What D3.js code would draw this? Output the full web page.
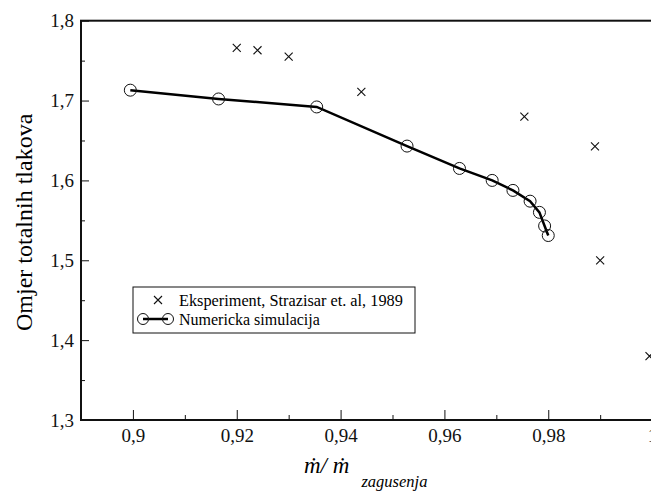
<!DOCTYPE html>
<html>
<head>
<meta charset="utf-8">
<script src="https://cdn.jsdelivr.net/npm/d3@7"></script>
<style>
  body { margin: 0; background: #fff; }
  svg { display: block; font-family: "Liberation Serif", "Times New Roman", serif; }
</style>
</head>
<body>
<div id="chart"></div>
<script>
// eksperiment (x oznake)
const expX = [0.920, 0.924, 0.930, 0.944, 0.9754, 0.989, 0.990, 0.9995];
const expY = [1.766, 1.763, 1.755, 1.711, 1.680, 1.6425, 1.500, 1.380];

// numericka simulacija (krugovi + linija)
const simX = [0.8995, 0.9165, 0.9354, 0.9528, 0.9629, 0.9692, 0.9732, 0.9765, 0.9783, 0.9793, 0.9800];
const simY = [1.713, 1.702, 1.692, 1.643, 1.615, 1.600, 1.5875, 1.574, 1.560, 1.543, 1.531];

const xTicks = [0.9, 0.92, 0.94, 0.96, 0.98, 1.0];
const xMinor = [0.91, 0.93, 0.95, 0.97, 0.99];
const yTicks = [1.3, 1.4, 1.5, 1.6, 1.7, 1.8];
const yMinor = [1.35, 1.45, 1.55, 1.65, 1.75];

const W = 651, H = 492;
const margin = { top: 20.7, left: 81, bottom: 72, right: -53 };
const width = W - margin.left - margin.right,
      height = H - margin.top - margin.bottom;

const loc = d3.formatLocale({ decimal: ",", thousands: ".", grouping: [3], currency: ["", ""] });
const fmt = loc.format("~g");

const svg = d3.select("#chart").append("svg")
  .attr("width", W).attr("height", H);

const g = svg.append("g")
  .attr("transform", `translate(${margin.left},${margin.top})`);

const x = d3.scaleLinear().domain([0.89, 1.01]).range([0, width]);
const y = d3.scaleLinear().domain([1.3, 1.8]).range([height, 0]);

// okvir
g.append("rect")
  .attr("width", width).attr("height", height)
  .attr("fill", "none").attr("stroke", "#111").attr("stroke-width", 2);

// osi - crtice prema unutra
g.append("g")
  .attr("transform", `translate(0,${height})`)
  .call(d3.axisBottom(x).tickValues(xTicks).tickSize(-10).tickPadding(9).tickFormat(fmt));
g.append("g")
  .attr("transform", `translate(0,${height})`)
  .call(d3.axisBottom(x).tickValues(xMinor).tickSize(-5).tickFormat(""));

g.append("g")
  .call(d3.axisLeft(y).tickValues(yTicks).tickSize(-8).tickPadding(7).tickFormat(fmt));
g.append("g")
  .call(d3.axisLeft(y).tickValues(yMinor).tickSize(-4).tickFormat(""));

g.selectAll(".domain").remove();
g.selectAll(".tick line").attr("stroke", "#111").attr("stroke-width", 1);
g.selectAll(".tick text")
  .attr("font-family", "'Liberation Serif', serif")
  .style("font-size", "19px")
  .attr("fill", "#111");

// linija simulacije
const sim = simX.map((v, i) => [v, simY[i]]);
g.append("path")
  .datum(sim)
  .attr("fill", "none")
  .attr("stroke", "#000")
  .attr("stroke-width", 2.5)
  .attr("d", d3.line().x(d => x(d[0])).y(d => y(d[1])));

g.selectAll("circle.sim")
  .data(sim)
  .enter().append("circle")
  .attr("class", "sim")
  .attr("cx", d => x(d[0]))
  .attr("cy", d => y(d[1]))
  .attr("r", 6)
  .attr("fill", "none")
  .attr("stroke", "#111")
  .attr("stroke-width", 1);

// eksperiment - krizici
const exp = expX.map((v, i) => [v, expY[i]]);
const cs = 4;
g.selectAll("path.exp")
  .data(exp)
  .enter().append("path")
  .attr("class", "exp")
  .attr("transform", d => `translate(${x(d[0])},${y(d[1])})`)
  .attr("d", `M${-cs},${-cs}L${cs},${cs}M${-cs},${cs}L${cs},${-cs}`)
  .attr("stroke", "#111")
  .attr("stroke-width", 1.1);

// legenda
const leg = g.append("g").attr("transform", `translate(${133 - margin.left},${287 - margin.top})`);
leg.append("rect")
  .attr("width", 282).attr("height", 46)
  .attr("fill", "#fff").attr("stroke", "#111").attr("stroke-width", 1);
leg.append("path")
  .attr("transform", "translate(25,13)")
  .attr("d", `M${-cs},${-cs}L${cs},${cs}M${-cs},${cs}L${cs},${-cs}`)
  .attr("stroke", "#111").attr("stroke-width", 1.1);
leg.append("text")
  .attr("x", 46).attr("y", 18.5)
  .style("font-size", "16.3px")
  .text("Eksperiment, Strazisar et. al, 1989");
leg.append("line")
  .attr("x1", 10).attr("x2", 35).attr("y1", 32).attr("y2", 32)
  .attr("stroke", "#000").attr("stroke-width", 2.5);
[10, 35].forEach(cx => leg.append("circle")
  .attr("cx", cx).attr("cy", 32).attr("r", 5.5)
  .attr("fill", "none").attr("stroke", "#111").attr("stroke-width", 1));
leg.append("text")
  .attr("x", 46).attr("y", 37.5)
  .style("font-size", "16px")
  .text("Numericka simulacija");

// naslovi osi
svg.append("text")
  .attr("transform", `translate(32,${margin.top + height / 2 + 2}) rotate(-90)`)
  .attr("text-anchor", "middle")
  .style("font-size", "24px")
  .text("Omjer totalnih tlakova");

const xt = svg.append("text")
  .attr("x", 304).attr("y", 473)
  .style("font-size", "23px")
  .style("font-style", "italic");
xt.append("tspan").text("ṁ/ ṁ");
xt.append("tspan")
  .attr("dx", 12).attr("dy", 14)
  .style("font-size", "16.5px")
  .text("zagusenja");
</script>
</body>
</html>
